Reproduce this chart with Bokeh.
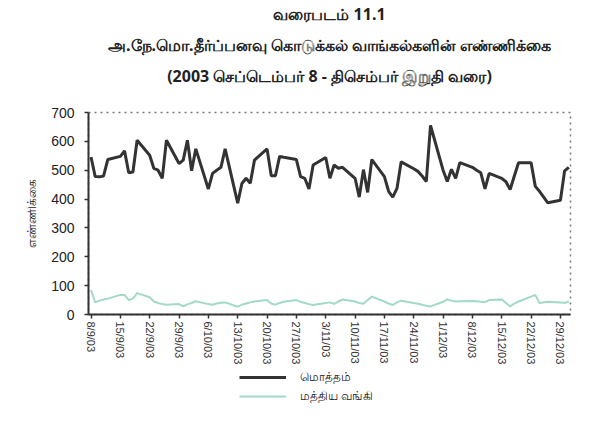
import math
import pandas as pd
from bokeh.plotting import figure
from bokeh.layouts import column
from bokeh.models import Range1d, FixedTicker, Legend, LegendItem, Title
from bokeh.embed import file_html
from bokeh.resources import INLINE

# ---- data ----
start_date = "2003-09-08"
end_date = "2003-12-31"
holidays = ["2003-12-25"]

total = [546, 478, 477, 480, 537,
         548, 567, 491, 494, 604,
         552, 506, 500, 472, 604,
         523, 535, 604, 498, 574,
         435, 489, 500, 510, 574,
         386, 454, 472, 455, 535,
         574, 481, 481, 548, 545,
         537, 478, 472, 435, 518,
         544, 472, 518, 507, 510,
         472, 407, 502, 423, 537,
         478, 427, 407, 437, 529,
         505, 496, 480, 461, 655,
         500, 461, 503, 472, 526,
         510, 500, 491, 435, 489,
         472, 460, 433, 480, 526,
         526, 444, 427, 387,
         396, 498, 510]

central_bank = [85, 42, 48, 52, 55,
                68, 68, 50, 55, 74,
                60, 45, 40, 36, 34,
                36, 28, 35, 40, 46,
                36, 34, 38, 41, 42,
                27, 34, 38, 42, 45,
                50, 38, 34, 40, 44,
                50, 44, 40, 36, 33,
                40, 42, 37, 45, 52,
                45, 40, 37, 50, 62,
                45, 38, 33, 42, 48,
                40, 37, 34, 30, 28,
                44, 52, 48, 45, 46,
                47, 46, 44, 43, 50,
                52, 40, 28, 38, 45,
                62, 68, 40, 44,
                42, 40, 45]

tick_labels = ["8/9/03", "15/9/03", "22/9/03", "29/9/03", "6/10/03", "13/10/03",
               "20/10/03", "27/10/03", "3/11/03", "10/11/03", "17/11/03", "24/11/03",
               "1/12/03", "8/12/03", "15/12/03", "22/12/03", "29/12/03"]

title_lines = ["வரைபடம் 11.1",
               "அ.நே.மொ.தீர்ப்பனவு கொடுக்கல் வாங்கல்களின் எண்ணிக்கை",
               "(2003 செப்டெம்பர் 8 - திசெம்பர் இறுதி வரை)"]
y_label = "எண்ணிக்கை"
series_names = ["மொத்தம்", "மத்திய வங்கி"]
colors = ["#333333", "#a3d9ca"]
widths = [3, 2]

# ---- derived ----
d0 = pd.Timestamp(start_date)
days = pd.bdate_range(start_date, end_date)
days = days[~days.isin(pd.to_datetime(holidays))]
x = [(d - d0).days for d in days]
tick_pos = [7 * i for i in range(len(tick_labels))]

p = figure(frame_width=482, frame_height=202, output_backend="svg", toolbar_location=None,
           x_range=Range1d(-0.6, 114.4), y_range=Range1d(0, 700),
           min_border_left=88, min_border_right=20, min_border_top=0,
           min_border_bottom=0, background_fill_color="#ffffff",
           border_fill_color="#ffffff")

p.line(x, total, line_color=colors[0], line_width=widths[0])
p.line(x, central_bank, line_color=colors[1], line_width=widths[1])

p.grid.visible = False
p.outline_line_color = "#777777"
p.outline_line_dash = "dotted"
p.outline_line_width = 1.5

for ax in (p.xaxis[0], p.yaxis[0]):
    ax.axis_line_color = "#333333"
    ax.axis_line_width = 2
    ax.major_tick_line_color = "#333333"
    ax.major_tick_line_width = 1.5
    ax.major_tick_in = 0
    ax.major_tick_out = 4
    ax.minor_tick_line_color = None

p.xaxis.ticker = FixedTicker(ticks=tick_pos)
p.xaxis.major_label_overrides = {t: l for t, l in zip(tick_pos, tick_labels)}
p.xaxis.major_label_orientation = -math.pi / 2
p.xaxis.major_label_text_font = "Liberation Sans"
p.xaxis.major_label_text_font_size = "11px"
p.xaxis.major_label_text_color = "#333333"
p.xaxis.major_label_standoff = 3

p.yaxis.ticker = FixedTicker(ticks=list(range(0, 701, 100)))
p.yaxis.major_label_text_font = "Liberation Sans"
p.yaxis.major_label_text_font_size = "14px"
p.yaxis.major_label_text_color = "#222222"
p.yaxis.major_label_standoff = 10
p.yaxis.axis_label = y_label
p.yaxis.axis_label_text_font = "Noto Sans"
p.yaxis.axis_label_text_font_size = "12px"
p.yaxis.axis_label_text_font_style = "normal"
p.yaxis.axis_label_text_color = "#222222"
p.yaxis.axis_label_standoff = 8

# spacer between the last title line and the plot frame
p.add_layout(Title(text=" ", text_font_size="16px", standoff=7), "above")
standoffs = [0, 13, 1]
for txt, so in zip(reversed(title_lines), standoffs):
    t = Title(text=txt, align="center", text_font="Noto Sans",
              text_font_size="16px", text_font_style="bold", text_color="#222222",
              standoff=so)
    p.add_layout(t, "above")

# legend strip below the chart (series drawn off-view so only the key shows)
lg = figure(width=590, height=60, output_backend="svg", toolbar_location=None,
            x_range=Range1d(-1000, -999), y_range=Range1d(0, 700),
            x_axis_location=None, y_axis_location=None,
            min_border_left=0, min_border_right=0, min_border_top=0, min_border_bottom=0,
            outline_line_color=None, background_fill_color="#ffffff",
            border_fill_color="#ffffff")
lg.grid.visible = False
k1 = lg.line(x, total, line_color=colors[0], line_width=widths[0])
k2 = lg.line(x, central_bank, line_color=colors[1], line_width=widths[1])
legend = Legend(items=[LegendItem(label=series_names[0], renderers=[k1]),
                       LegendItem(label=series_names[1], renderers=[k2])],
                location=(151, 23), orientation="vertical",
                border_line_color=None, background_fill_alpha=0,
                glyph_width=47, glyph_height=14, label_height=16,
                label_text_font="Noto Sans",
                label_text_font_size="12px", label_text_color="#222222",
                spacing=2, padding=4, margin=0, label_standoff=14)
lg.add_layout(legend, "center")

layout = column(p, lg, spacing=0)
open("out.html", "w").write(file_html(layout, INLINE))
